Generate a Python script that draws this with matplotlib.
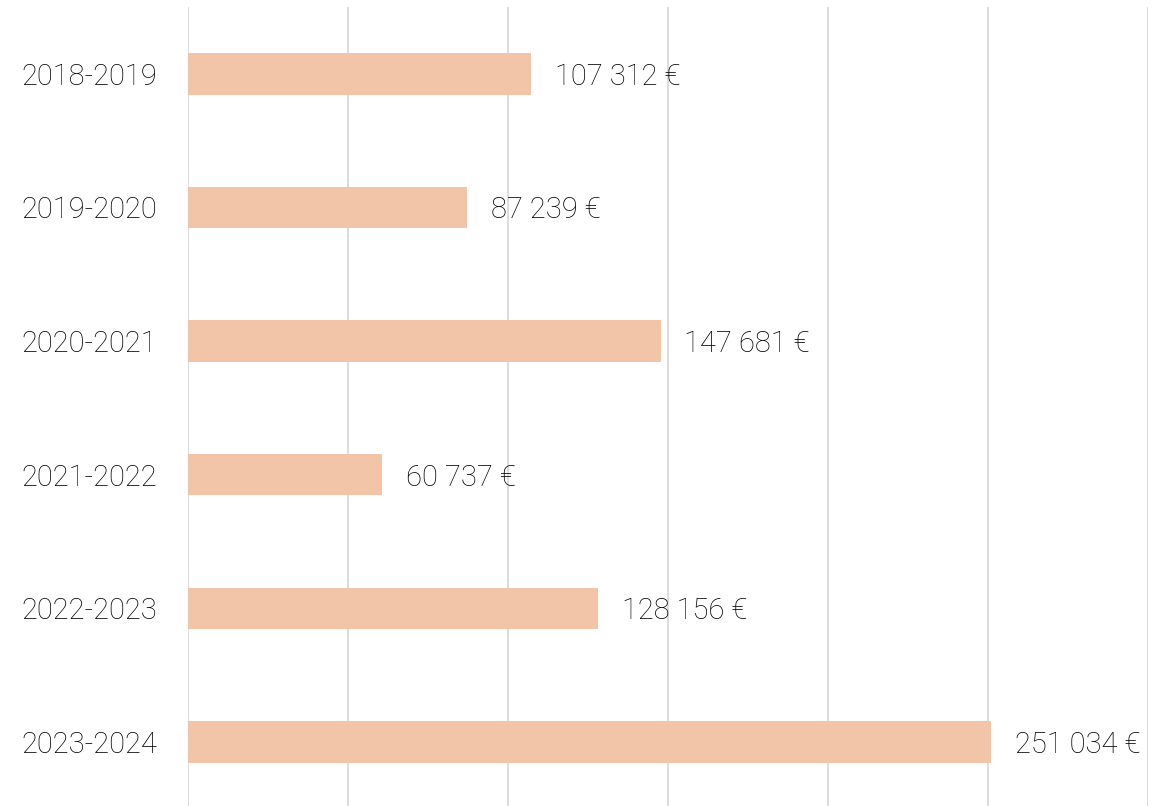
import matplotlib
matplotlib.use("Agg")
import matplotlib.pyplot as plt

# data
periods = ["2018-2019", "2019-2020", "2020-2021", "2021-2022", "2022-2023", "2023-2024"]
amounts = [107312, 87239, 147681, 60737, 128156, 251034]

plt.rcParams["font.family"] = ["Roboto", "DejaVu Sans"]

fig = plt.figure(figsize=(11.72, 8.06), dpi=100)
ax = fig.add_axes([188 / 1172, 0.0, (1148 - 188) / 1172, 1 - 7 / 806])

y = list(range(len(periods)))
ax.barh(y, amounts, height=0.31, color="#F2C4A8", zorder=3)

for yi, v in zip(y, amounts):
    label = f"{v:,}".replace(",", " ") + " €"
    ax.annotate(label, (v, yi), xytext=(17, 0), textcoords="offset points",
                va="center_baseline", ha="left", fontsize=21, fontweight="light", color="#000000")

ax.set_xlim(0, 300000)
ax.set_ylim(5.48, -0.5)
ax.set_xticks(range(0, 300001, 50000))
ax.set_yticks(y)
ax.set_yticklabels(periods, fontsize=21, fontweight="light", color="#000000")
ax.tick_params(axis="y", length=0, pad=22)
ax.tick_params(axis="x", length=0, labelbottom=False)
ax.grid(axis="x", color="#DDDDDD", linewidth=1.5, zorder=0)
for s in ax.spines.values():
    s.set_visible(False)

fig.savefig("out.png", dpi=100)
